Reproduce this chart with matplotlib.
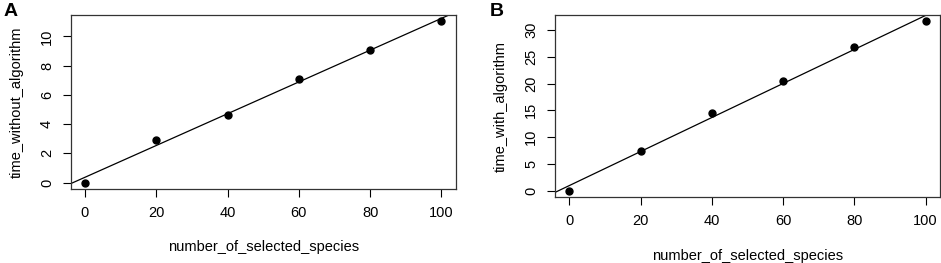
import matplotlib
matplotlib.use("Agg")
import matplotlib.pyplot as plt
import numpy as np

plt.rcParams["font.family"] = ["Liberation Sans", "DejaVu Sans"]

species = [0, 20, 40, 60, 80, 100]
time_without = [0.0, 2.92, 4.64, 7.12, 9.07, 11.05]
time_with = [0.0, 7.37, 14.56, 20.56, 26.94, 31.63]


def r_plot(ax, x, y, ylabel, yticks):
    x = np.asarray(x, float)
    y = np.asarray(y, float)
    ax.plot(x, y, "o", color="black", ms=5, zorder=3)
    # R-style 4% axis extension
    xr = x.max() - x.min()
    yr = y.max() - y.min()
    xlim = (x.min() - 0.04 * xr, x.max() + 0.04 * xr)
    ax.set_xlim(*xlim)
    ax.set_ylim(y.min() - 0.04 * yr, y.max() + 0.04 * yr)
    # abline(lm(y ~ x))
    b, a = np.polyfit(x, y, 1)
    xx = np.array(xlim)
    ax.plot(xx, a + b * xx, color="black", lw=0.9)
    ax.set_xticks(species)
    ax.set_yticks(yticks)
    ax.tick_params(axis="y", labelrotation=90)
    for lab in ax.get_yticklabels():
        lab.set_va("center")
    ax.tick_params(direction="out", length=6, width=0.8, labelsize=10.5, pad=6)
    for s in ax.spines.values():
        s.set_linewidth(0.9)
        s.set_color("#333333")
    ax.set_xlabel("number_of_selected_species", fontsize=10.5, labelpad=15)
    ax.set_ylabel(ylabel, fontsize=10.5, labelpad=12)


fig = plt.figure(figsize=(9.41, 2.63), dpi=100)
ax1 = fig.add_axes([0.0751, 0.2814, 0.4092, 0.6627])
ax2 = fig.add_axes([0.5898, 0.2498, 0.4090, 0.6943])

r_plot(ax1, species, time_without, "time_without_algorithm", [0, 2, 4, 6, 8, 10])
r_plot(ax2, species, time_with, "time_with_algorithm", [0, 5, 10, 15, 20, 25, 30])

fig.text(0.004, 0.99, "A", fontsize=14, fontweight="bold", va="top", ha="left")
fig.text(0.520, 0.99, "B", fontsize=14, fontweight="bold", va="top", ha="left")

fig.savefig("out.png", dpi=100)
